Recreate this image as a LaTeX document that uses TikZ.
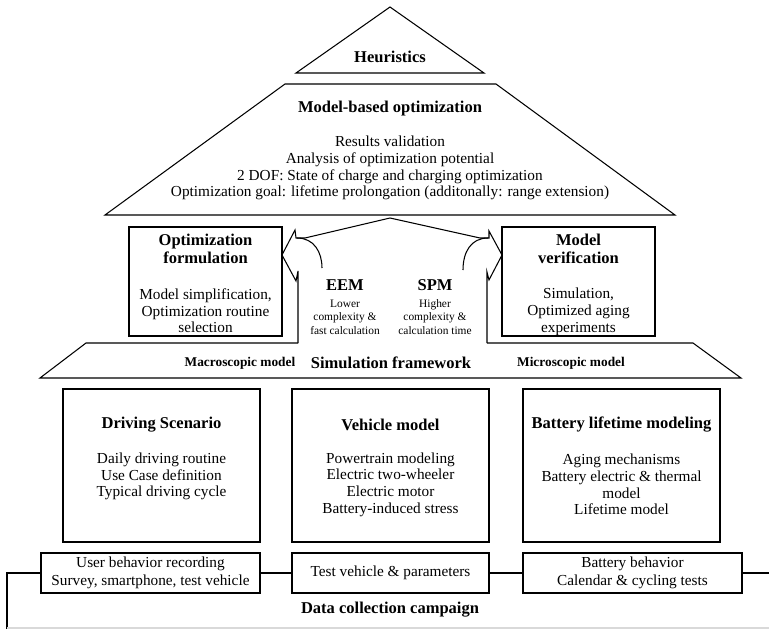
\documentclass[tikz,border=0pt]{standalone}
\usepackage{fontspec}
\setmainfont{Liberation Serif}
\usetikzlibrary{positioning}

\begin{document}
\begin{tikzpicture}[x=0.02cm, y=-0.02cm, line width=0.6pt,
    head/.style={font=\fontsize{9.4}{10.6}\selectfont\bfseries, align=center},
    body/.style={font=\fontsize{8.7}{9.5}\selectfont, align=center},
    note/.style={font=\fontsize{6.5}{7.7}\selectfont, align=center},
    sidelabel/.style={font=\fontsize{7.6}{9}\selectfont\bfseries},
    panel/.style={draw, rectangle, minimum width=3.94cm, minimum height=3.06cm},
    sidebox/.style={draw, rectangle, minimum width=3.06cm, minimum height=2.18cm},
    databox/.style={draw, rectangle, minimum height=0.8cm, inner sep=1pt, align=center, font=\fontsize{8.7}{10}\selectfont}]
    \useasboundingbox (0,0) rectangle (769,629);

    % Heuristics on top
    \draw (296,73) -- (390,7) -- (484,73) -- cycle;
    \node[head] (heur) at (390,57) {Heuristics};

    % Model-based optimization
    \draw (285,84) -- (496,84) -- (675,215) -- (105,215) -- cycle;
    \node[head] (mbo) at (390,109) {Model-based optimization};
    \node[body] (mbotext) at (390,168) {Results validation\\Analysis of optimization potential\\2 DOF: State of charge and charging optimization\\Optimization goal: lifetime prolongation (additonally: range extension)};

    % Side boxes
    \node[sidebox] (optform) at (205.5,281.5) {};
    \node[head] (optformt) at (205.5,249) {Optimization\\formulation};
    \node[body] (optformb) at (205.5,311) {Model simplification,\\Optimization routine\\selection};

    \node[sidebox] (modver) at (578.5,281.5) {};
    \node[head] (modvert) at (578.5,249) {Model\\verification};
    \node[body] (modverb) at (578.5,312) {Simulation,\\Optimized aging\\experiments};

    % Curved arrows out of the framework
    \draw (298,343) -- (298,271) -- (296,281) -- (282,255) -- (295,230) -- (296,238) -- (305,238)
        -- (390,218) -- (480,238) -- (489,238) -- (489,231) -- (502,255) -- (489,280) -- (487,272) -- (487,343);
    \draw (297,238) .. controls (314,238) and (322,252) .. (322,268);
    \draw (488,238) .. controls (471,238) and (463,252) .. (463,270);

    \node[head] (eem) at (345,285) {EEM};
    \node[note] (eemtext) at (345,317) {Lower\\complexity \&\\fast calculation};
    \node[head] (spm) at (435,285) {SPM};
    \node[note] (spmtext) at (435,317) {Higher\\complexity \&\\calculation time};

    % Simulation framework
    \draw (298,343) -- (86,343) -- (40,378) -- (741,378) -- (693,343) -- (487,343);
    \node[sidelabel] (macro) at (240,363) {Macroscopic model};
    \node[head] (simframe) at (391,363) {Simulation framework};
    \node[sidelabel] (micro) at (571,363) {Microscopic model};

    % Model boxes
    \node[panel] (drive) at (161.5,465.5) {};
    \node[head] (drivet) at (161.5,425) {Driving Scenario};
    \node[body] (driveb) at (161.5,476.5) {Daily driving routine\\Use Case definition\\Typical driving cycle};

    \node[panel] (vehicle) at (390.5,465.5) {};
    \node[head] (vehiclet) at (390.5,425) {Vehicle model};
    \node[body] (vehicleb) at (390.5,484.5) {Powertrain modeling\\Electric two-wheeler\\Electric motor\\Battery-induced stress};

    \node[panel] (battery) at (621.5,465.5) {};
    \node[head] (batteryt) at (621.5,425) {Battery lifetime modeling};
    \node[body] (batteryb) at (621.5,484.5) {Aging mechanisms\\Battery electric \& thermal\\model\\Lifetime model};

    % Data collection campaign
    \node[databox, minimum width=4.38cm] (userrec) at (150.5,573) {User behavior recording\\Survey, smartphone, test vehicle};
    \node[databox, minimum width=3.94cm] (testveh) at (390.5,573) {Test vehicle \& parameters};
    \node[databox, minimum width=4.38cm] (battbeh) at (632.5,573) {Battery behavior\\Calendar \& cycling tests};
    \coordinate (leftend) at (7,573);
    \coordinate (leftfoot) at (7,629);
    \coordinate (rightend) at (769,573);
    \draw (userrec) -- (testveh);
    \draw (testveh) -- (battbeh);
    \draw (battbeh) -- (rightend);
    \draw (userrec) -- (leftend) -- (leftfoot);
    \draw[gray!30] (7,628) -- (769,628);
    \node[head] (datacamp) at (390,610) {Data collection campaign};
\end{tikzpicture}
\end{document}
